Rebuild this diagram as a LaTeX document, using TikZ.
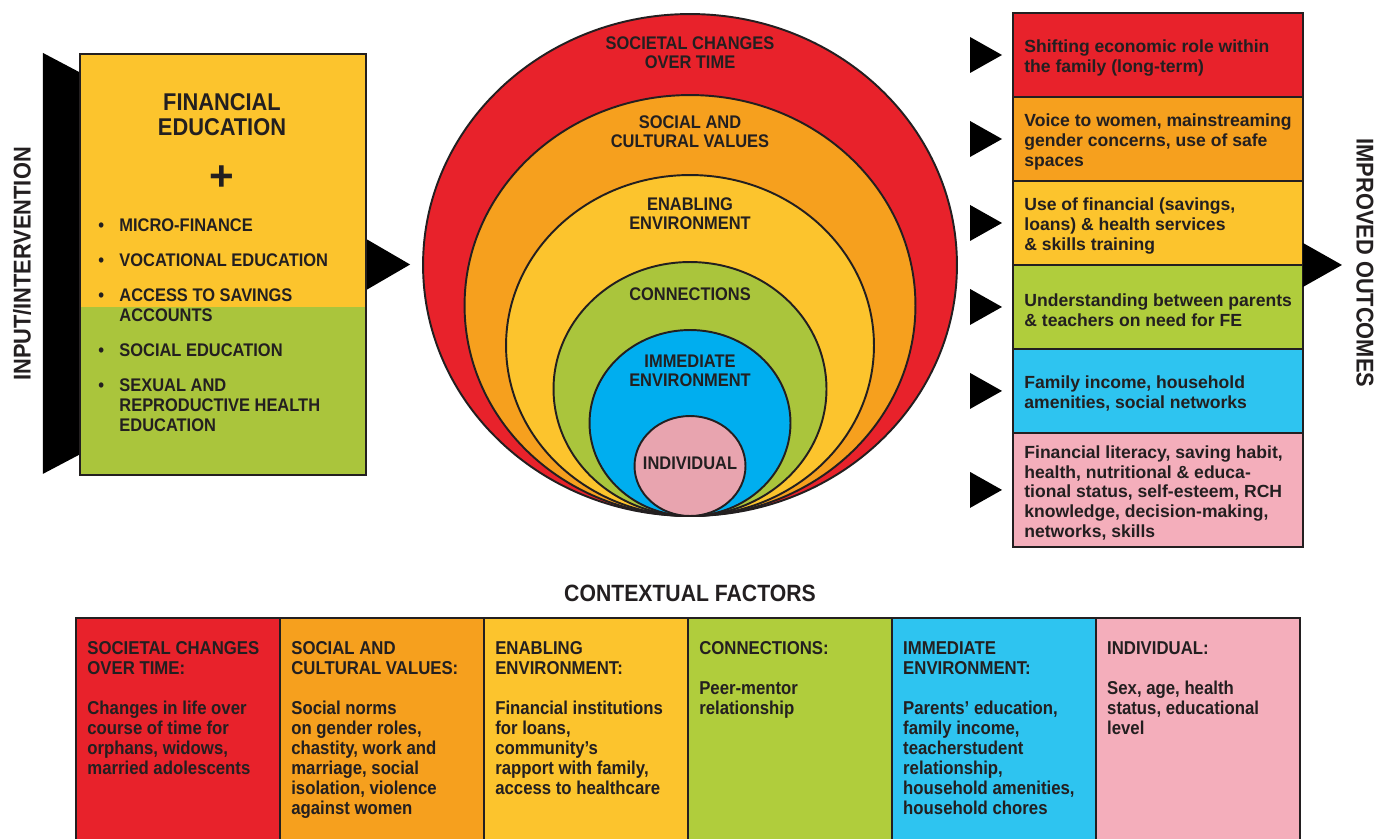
\documentclass[tikz,border=0pt]{standalone}
\usepackage{fontspec}
\setmainfont{Liberation Sans}
\newfontfamily\condensed[FakeStretch=0.9]{Liberation Sans}
\usetikzlibrary{positioning,shapes.geometric}

\definecolor{fered}{RGB}{232,34,43}
\definecolor{feorange}{RGB}{246,160,30}
\definecolor{feyellow}{RGB}{252,196,45}
\definecolor{fegreen}{RGB}{170,197,60}
\definecolor{felime}{RGB}{176,205,60}
\definecolor{feblue}{RGB}{0,174,239}
\definecolor{feskyblue}{RGB}{46,196,240}
\definecolor{fepink}{RGB}{232,164,175}
\definecolor{felightpink}{RGB}{244,174,187}
\definecolor{feink}{RGB}{35,31,32}

\newcommand\ctxfont{\condensed\bfseries\fontsize{10.6}{11.34}\selectfont}

\tikzset{
  boxline/.style={draw=feink,line width=1.3pt},
  ring/.style={ellipse,draw=feink,line width=1.1pt,inner sep=0pt},
  ringlabel/.style={font=\condensed\bfseries\fontsize{10.4}{10.8}\selectfont,align=center,text=feink},
  sidelabel/.style={font=\condensed\bfseries\fontsize{13.8}{14}\selectfont,text=feink},
  outcome/.style={rectangle,boxline,minimum width=5.8cm,minimum height=1.68cm,inner sep=0pt,outer sep=0pt},
  outtext/.style={anchor=west,inner sep=0pt,align=left,font=\bfseries\fontsize{10}{11.34}\selectfont,text=feink},
  factor/.style={rectangle,boxline,minimum width=4.08cm,minimum height=4.54cm,inner sep=0pt,outer sep=0pt},
  factortext/.style={anchor=north west,inner sep=0pt,align=left,font=\ctxfont,text=feink}
}

\begin{document}
\begin{tikzpicture}[x=0.02cm,y=-0.02cm]
\useasboundingbox[fill=white] (0,0) rectangle (1378,838);

% input / intervention
\fill[feyellow] (80,54) rectangle (366,307);
\fill[fegreen] (80,307) rectangle (366,475);
\node[boxline,minimum width=5.72cm,minimum height=8.42cm,inner sep=0pt] (inbox) at (223,264.5) {};
\fill (inbox.north west) ++(-36,0) -- ++(36,19) -- ++(0,383) -- ++(-36,19) -- cycle;
\fill (inbox.east) ++(0,-25) -- ++(43,25) -- ++(-43,25) -- cycle;
\node[sidelabel,rotate=90] (inlabel) at (22,264) {INPUT/INTERVENTION};
\node[font=\condensed\bfseries\fontsize{13.8}{14.2}\selectfont,align=center,text=feink] (fetitle) at (222,114.5) {FINANCIAL\\EDUCATION};
\node[font=\bfseries\fontsize{24}{24}\selectfont,text=feink] (feplus) at (222,178) {+};
\node[anchor=north west,inner sep=0pt,font=\condensed\bfseries\fontsize{10.4}{11.34}\selectfont,text=feink] (felist) at (98,217.5) {%
\begin{tabular}{@{}p{12pt}@{}l@{}}
\textbullet & MICRO-FINANCE\\[8.5pt]
\textbullet & VOCATIONAL EDUCATION\\[8.5pt]
\textbullet & ACCESS TO SAVINGS\\
 & ACCOUNTS\\[8.5pt]
\textbullet & SOCIAL EDUCATION\\[8.5pt]
\textbullet & SEXUAL AND\\
 & REPRODUCTIVE HEALTH\\
 & EDUCATION
\end{tabular}};

% nested spheres
\node[ring,fill=fered,minimum width=10.68cm,minimum height=10.04cm] (ring1) at (690,265) {};
\node[ring,fill=feorange,minimum width=9.02cm,minimum height=8.42cm] (ring2) at (690,305.5) {};
\node[ring,fill=feyellow,minimum width=7.36cm,minimum height=6.82cm] (ring3) at (690,345.5) {};
\node[ring,fill=fegreen,minimum width=5.46cm,minimum height=5.08cm] (ring4) at (690,389) {};
\node[ring,fill=feblue,minimum width=4.02cm,minimum height=3.72cm] (ring5) at (690,423) {};
\node[ring,fill=fepink,minimum width=2.22cm,minimum height=2.0cm] (ring6) at (690,466) {};
\node[ringlabel] (ringtext1) at (690,52.5) {SOCIETAL CHANGES\\OVER TIME};
\node[ringlabel] (ringtext2) at (690,131.5) {SOCIAL AND\\CULTURAL VALUES};
\node[ringlabel] (ringtext3) at (690,214) {ENABLING\\ENVIRONMENT};
\node[ringlabel] (ringtext4) at (690,294) {CONNECTIONS};
\node[ringlabel] (ringtext5) at (690,371) {IMMEDIATE\\ENVIRONMENT};
\node[ringlabel] (ringtext6) at (690,463) {INDIVIDUAL};

% improved outcomes
\node[outcome,fill=fered] (out1) at (1158,55) {};
\node[outcome,fill=feorange,below=0pt of out1] (out2) {};
\node[outcome,fill=feyellow,below=0pt of out2] (out3) {};
\node[outcome,fill=felime,below=0pt of out3] (out4) {};
\node[outcome,fill=feskyblue,below=0pt of out4] (out5) {};
\node[outcome,fill=felightpink,minimum height=2.28cm,below=0pt of out5] (out6) {};
\node[outtext] (outtext1) at ([xshift=0.22cm,yshift=-0.06cm]out1.west) {Shifting economic role within\\the family (long-term)};
\node[outtext] (outtext2) at ([xshift=0.22cm,yshift=-0.06cm]out2.west) {Voice to women, mainstreaming\\gender concerns, use of safe\\spaces};
\node[outtext] (outtext3) at ([xshift=0.22cm,yshift=-0.06cm]out3.west) {Use of financial (savings,\\loans) \& health services\\\& skills training};
\node[outtext] (outtext4) at ([xshift=0.22cm,yshift=-0.06cm]out4.west) {Understanding between parents\\\& teachers on need for FE};
\node[outtext] (outtext5) at ([xshift=0.22cm,yshift=-0.06cm]out5.west) {Family income, household\\amenities, social networks};
\node[outtext] (outtext6) at ([xshift=0.22cm,yshift=-0.06cm]out6.west) {Financial literacy, saving habit,\\health, nutritional \& educa-\\tional status, self-esteem, RCH\\knowledge, decision-making,\\networks, skills};
\foreach \i in {1,...,6}
  \fill (out\i.west) ++(-43,-18) -- ++(32,18) -- ++(-32,18) -- cycle;
\fill (out3.south east) ++(0,-22) -- ++(39,22) -- ++(-39,22) -- cycle;
\node[sidelabel,rotate=-90] (outlabel) at (1365,263) {IMPROVED OUTCOMES};

% contextual factors
\node[font=\condensed\bfseries\fontsize{13.4}{14}\selectfont,text=feink] (ctxtitle) at (690,593) {CONTEXTUAL FACTORS};
\node[factor,fill=fered] (ctx1) at (178,731.5) {};
\node[factor,fill=feorange,right=0pt of ctx1] (ctx2) {};
\node[factor,fill=feyellow,right=0pt of ctx2] (ctx3) {};
\node[factor,fill=felime,right=0pt of ctx3] (ctx4) {};
\node[factor,fill=feskyblue,right=0pt of ctx4] (ctx5) {};
\node[factor,fill=felightpink,right=0pt of ctx5] (ctx6) {};
\node[factortext] (ctxtext1) at ([shift={(11,23.5)}]ctx1.north west) {SOCIETAL CHANGES\\OVER TIME:\\[11.34pt]Changes in life over\\course of time for\\orphans, widows,\\married adolescents};
\node[factortext] (ctxtext2) at ([shift={(11,23.5)}]ctx2.north west) {SOCIAL AND\\CULTURAL VALUES:\\[11.34pt]Social norms\\on gender roles,\\chastity, work and\\marriage, social\\isolation, violence\\against women};
\node[factortext] (ctxtext3) at ([shift={(11,23.5)}]ctx3.north west) {ENABLING\\ENVIRONMENT:\\[11.34pt]Financial institutions\\for loans,\\community’s\\rapport with family,\\access to healthcare};
\node[factortext] (ctxtext4) at ([shift={(11,23.5)}]ctx4.north west) {CONNECTIONS:\\[11.34pt]Peer-mentor\\relationship};
\node[factortext] (ctxtext5) at ([shift={(11,23.5)}]ctx5.north west) {IMMEDIATE\\ENVIRONMENT:\\[11.34pt]Parents’ education,\\family income,\\teacherstudent\\relationship,\\household amenities,\\household chores};
\node[factortext] (ctxtext6) at ([shift={(11,23.5)}]ctx6.north west) {INDIVIDUAL:\\[11.34pt]Sex, age, health\\status, educational\\level};
\end{tikzpicture}
\end{document}
